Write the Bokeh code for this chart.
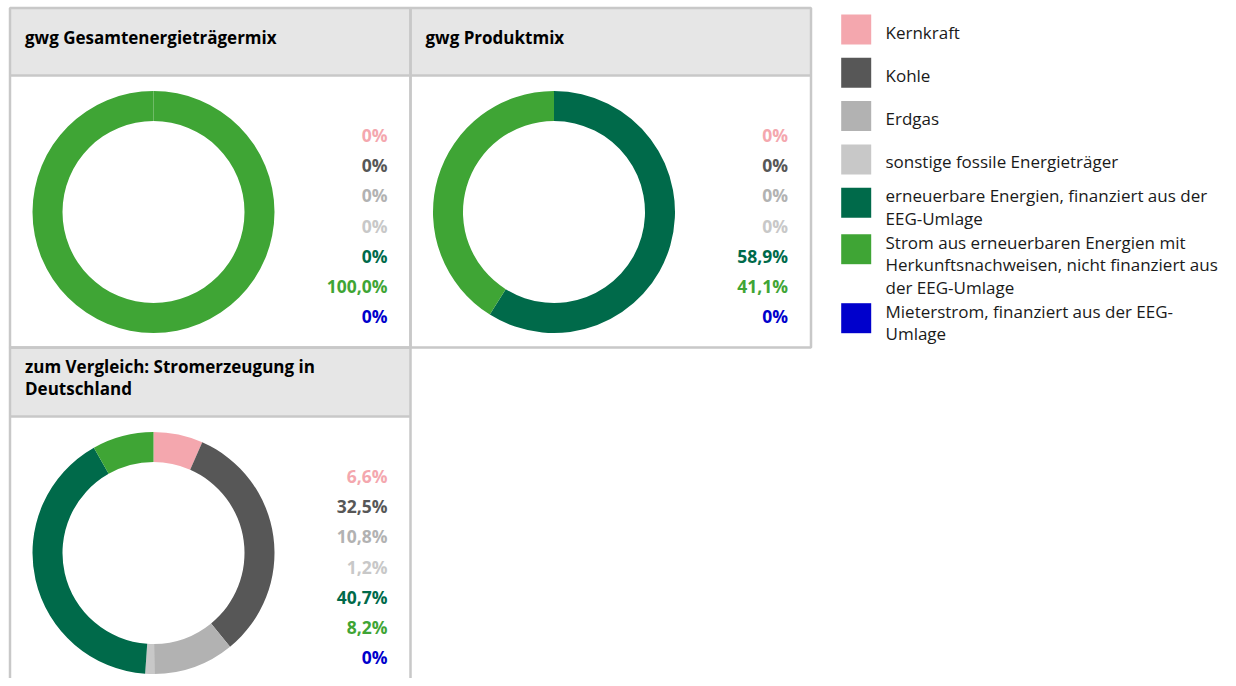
import math
from bokeh.plotting import figure
from bokeh.models import Range1d, ColumnDataSource
from bokeh.embed import file_html
from bokeh.resources import INLINE
from bokeh.core.properties import value

# ---------------- data ----------------
categories = [
    "Kernkraft",
    "Kohle",
    "Erdgas",
    "sonstige fossile Energieträger",
    "erneuerbare Energien, finanziert aus der EEG-Umlage",
    "Strom aus erneuerbaren Energien mit Herkunftsnachweisen, nicht finanziert aus der EEG-Umlage",
    "Mieterstrom, finanziert aus der EEG-Umlage",
]
legend_lines = [
    ["Kernkraft"],
    ["Kohle"],
    ["Erdgas"],
    ["sonstige fossile Energieträger"],
    ["erneuerbare Energien, finanziert aus der", "EEG-Umlage"],
    ["Strom aus erneuerbaren Energien mit", "Herkunftsnachweisen, nicht finanziert aus", "der EEG-Umlage"],
    ["Mieterstrom, finanziert aus der EEG-", "Umlage"],
]
colors = ["#F4A7AE", "#575757", "#B2B2B2", "#C8C8C8", "#006A4A", "#3FA535", "#0000CC"]

panel_titles = [
    ["gwg Gesamtenergieträgermix"],
    ["gwg Produktmix"],
    ["zum Vergleich: Stromerzeugung in", "Deutschland"],
]
gesamt = [0, 0, 0, 0, 0, 100.0, 0]
produkt = [0, 0, 0, 0, 58.9, 41.1, 0]
deutschland = [6.6, 32.5, 10.8, 1.2, 40.7, 8.2, 0]
panel_values = [gesamt, produkt, deutschland]

# ---------------- layout ----------------
W, H = 1220, 678
OX, OY = 0, 0  # page position of the figure's top-left corner
TDY = -7.5     # text baseline correction


def Y(py):
    return OY + H - py


def TY(py):
    return Y(py + TDY)


FONT = value("Open Sans")
BORDER = "#C8C8C8"
HEADER_BG = "#E6E6E6"

p = figure(width=W, height=H, output_backend="svg", toolbar_location=None,
           x_range=Range1d(OX, OX + W), y_range=Range1d(Y(OY + H), Y(OY)),
           min_border=0, outline_line_color=None)
p.axis.visible = False
p.grid.visible = False
p.background_fill_color = "white"
p.border_fill_color = "white"

# panels: (left, right, top, header_bottom, bottom)
panels = [
    (9.5, 410, 7.5, 75, 347),
    (410, 810.5, 7.5, 75, 347),
    (9.5, 410, 347, 416, 688),
]

for (l, r, t, hb, b) in panels:
    p.quad(left=[l], right=[r], top=[Y(t)], bottom=[Y(hb)], fill_color=HEADER_BG, line_color=None)

for (l, r, t, hb, b) in panels:
    p.quad(left=[l], right=[r], top=[Y(t)], bottom=[Y(b)], fill_color=None,
           line_color=BORDER, line_width=2.5)
    p.segment(x0=[l], x1=[r], y0=[Y(hb)], y1=[Y(hb)], line_color=BORDER, line_width=2.5)


def fmt(v):
    if v == 0:
        return "0%"
    return ("%.1f" % v).replace(".", ",") + "%"


R_OUT, R_IN = 121, 91
for (l, r, t, hb, b), title, vals in zip(panels, panel_titles, panel_values):
    # title
    first = t + (36.5 if len(title) == 1 else 26)
    p.text(x=[l + 15] * len(title), y=[TY(first + 22 * i) for i in range(len(title))],
           text=title, text_font=FONT, text_font_size="17px", text_font_style="bold",
           text_color="#000000", text_baseline="alphabetic", text_align="left")
    # donut
    cx, cy = l + 143.5, (hb + 1 + b) / 2.0
    total = float(sum(vals))
    starts, ends, cols = [], [], []
    cum = 0.0
    for v, c in zip(vals, colors):
        if v > 0:
            a0 = math.pi / 2 - 2 * math.pi * cum / total
            a1 = math.pi / 2 - 2 * math.pi * (cum + v) / total
            if v / total >= 0.999:
                q = a0 - math.pi / 2
                starts += [a0, q]
                ends += [q, a1]
                cols += [c, c]
            else:
                starts.append(a0)
                ends.append(a1)
                cols.append(c)
        cum += v
    src = ColumnDataSource(dict(x=[cx] * len(starts), y=[Y(cy)] * len(starts),
                                start=starts, end=ends, color=cols))
    p.annular_wedge(x="x", y="y", inner_radius=R_IN, outer_radius=R_OUT,
                    start_angle="start", end_angle="end", direction="clock",
                    fill_color="color", line_color=None, source=src)
    # labels
    base = hb + 67
    p.text(x=[r - 23] * len(vals), y=[TY(base + 30.17 * i) for i in range(len(vals))],
           text=[fmt(v) for v in vals], text_color=colors, text_font=FONT,
           text_font_size="17.5px", text_font_style="bold",
           text_align="right", text_baseline="alphabetic")

# legend
top = 14.0
sq_x, sq_size, tx = 840.7, 30, 885
for lines, c in zip(legend_lines, colors):
    p.quad(left=[sq_x], right=[sq_x + sq_size], top=[Y(top)], bottom=[Y(top + sq_size)],
           fill_color=c, line_color=None)
    first = top + (25 if len(lines) == 1 else 15.3)
    p.text(x=[tx] * len(lines), y=[TY(first + 22.5 * i) for i in range(len(lines))],
           text=lines, text_color="#1A1A1A", text_font=FONT, text_font_size="17px",
           text_align="left", text_baseline="alphabetic")
    top += max(43.3, len(lines) * 22.5 + 1.5)

open("out.html", "w").write(file_html(p, INLINE))
